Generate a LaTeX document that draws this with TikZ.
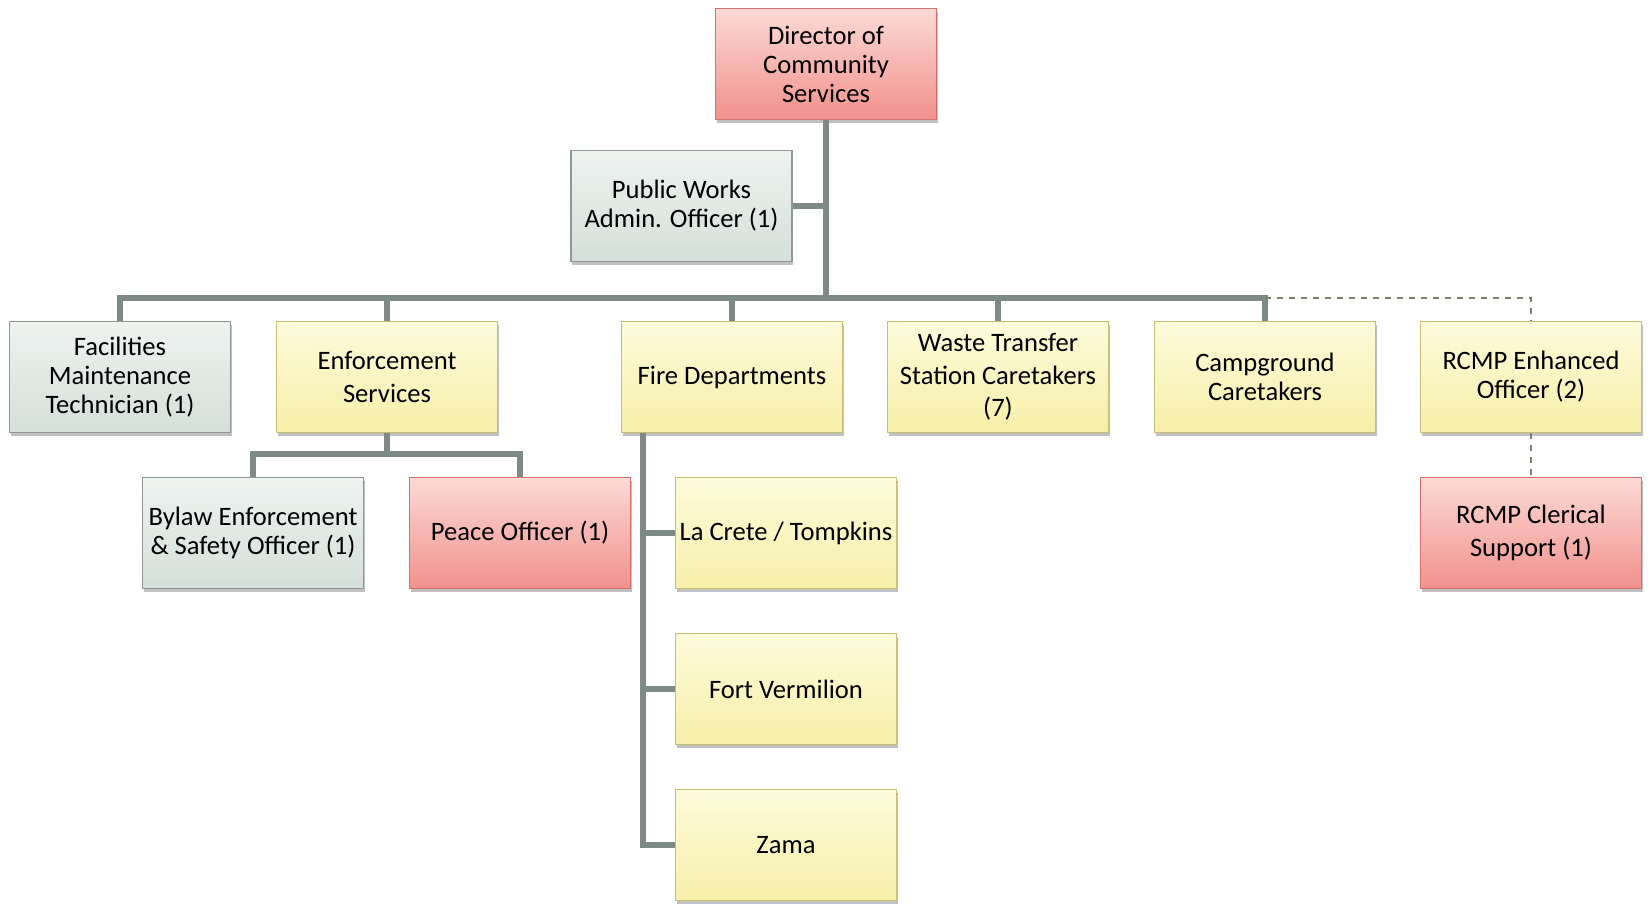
\documentclass[tikz,border=0pt]{standalone}
\usepackage{fontspec}
\setmainfont{Carlito}
\usetikzlibrary{shadows}
\definecolor{redtop}{HTML}{FCDAD6}
\definecolor{redbot}{HTML}{F1918C}
\definecolor{redline}{HTML}{D4716C}
\definecolor{graytop}{HTML}{EEF3F0}
\definecolor{graybot}{HTML}{D5DFD9}
\definecolor{grayline}{HTML}{8F9893}
\definecolor{yeltop}{HTML}{FDFBDC}
\definecolor{yelbot}{HTML}{F6EFA8}
\definecolor{yelline}{HTML}{C5C073}
\definecolor{conncol}{HTML}{7E8B85}
\definecolor{dashcol}{HTML}{7F7F6C}
\tikzset{
  box/.style={rectangle, minimum width=110.5pt, minimum height=55.5pt, inner sep=1pt,
    align=center, font=\fontsize{13.3}{14.5}\selectfont, text=black, line width=0.9pt,
    drop shadow={shadow xshift=0.6pt, shadow yshift=-1.6pt, opacity=0.35, fill=black!70}},
  widelines/.style={font=\fontsize{13.3}{16.3}\selectfont},
  redbox/.style={box, draw=redline, top color=redtop, bottom color=redbot},
  graybox/.style={box, draw=grayline, top color=graytop, bottom color=graybot},
  yelbox/.style={box, draw=yelline, top color=yeltop, bottom color=yelbot},
  conn/.style={draw=conncol, line width=2.7pt, line join=miter},
  dashconn/.style={draw=dashcol, line width=0.6pt, dashed}
}
\begin{document}
\begin{tikzpicture}[x=0.5pt, y=-0.5pt]
\useasboundingbox (0,0) rectangle (1651,908);
% nodes
\node[redbox]  (dir)      at (826,64)   {Director of\\Community\\Services};
\node[graybox] (pw)       at (681.5,206) {Public Works\\Admin. Officer (1)};
\node[graybox] (fac)      at (120,377)  {Facilities\\Maintenance\\Technician (1)};
\node[yelbox, widelines]  (enf)      at (387,377)  {Enforcement\\Services};
\node[yelbox]  (fire)     at (732,377)  {Fire Departments};
\node[yelbox, widelines]  (waste)    at (998,377)  {Waste Transfer\\Station Caretakers\\(7)};
\node[yelbox]  (camp)     at (1265,377) {Campground\\Caretakers};
\node[yelbox]  (rcmp)     at (1531,377) {RCMP Enhanced\\Officer (2)};
\node[graybox] (bylaw)    at (253,533)  {Bylaw Enforcement\\\& Safety Officer (1)};
\node[redbox]  (peace)    at (520,533)  {Peace Officer (1)};
\node[yelbox]  (lacrete)  at (786,533)  {La Crete / Tompkins};
\node[yelbox]  (fortv)    at (786,689)  {Fort Vermilion};
\node[yelbox]  (zama)     at (786,845)  {Zama};
\node[redbox, widelines]  (clerical) at (1531,533) {RCMP Clerical\\Support (1)};
% junctions
\coordinate (bus) at (826,298);
\coordinate (ebus) at (387,454);
\coordinate (ftop) at (643,433);
% connectors
\draw[conn] (dir.south) -- (bus);
\draw[conn] (pw.east) -- (pw.east -| bus);
\draw[conn] (fac.north) -- (fac.north |- bus) -- (camp.north |- bus) -- (camp.north);
\draw[conn] (enf.north) -- (enf.north |- bus);
\draw[conn] (fire.north) -- (fire.north |- bus);
\draw[conn] (waste.north) -- (waste.north |- bus);
\draw[dashconn] (camp.north |- bus) -| (rcmp.north);
\draw[dashconn] (rcmp.south) -- (clerical.north);
\draw[conn] (enf.south) -- (ebus);
\draw[conn] (bylaw.north) |- (ebus) -| (peace.north);
\draw[conn] (ftop) |- (zama.west);
\draw[conn] (ftop |- lacrete.west) -- (lacrete.west);
\draw[conn] (ftop |- fortv.west) -- (fortv.west);
\end{tikzpicture}
\end{document}
